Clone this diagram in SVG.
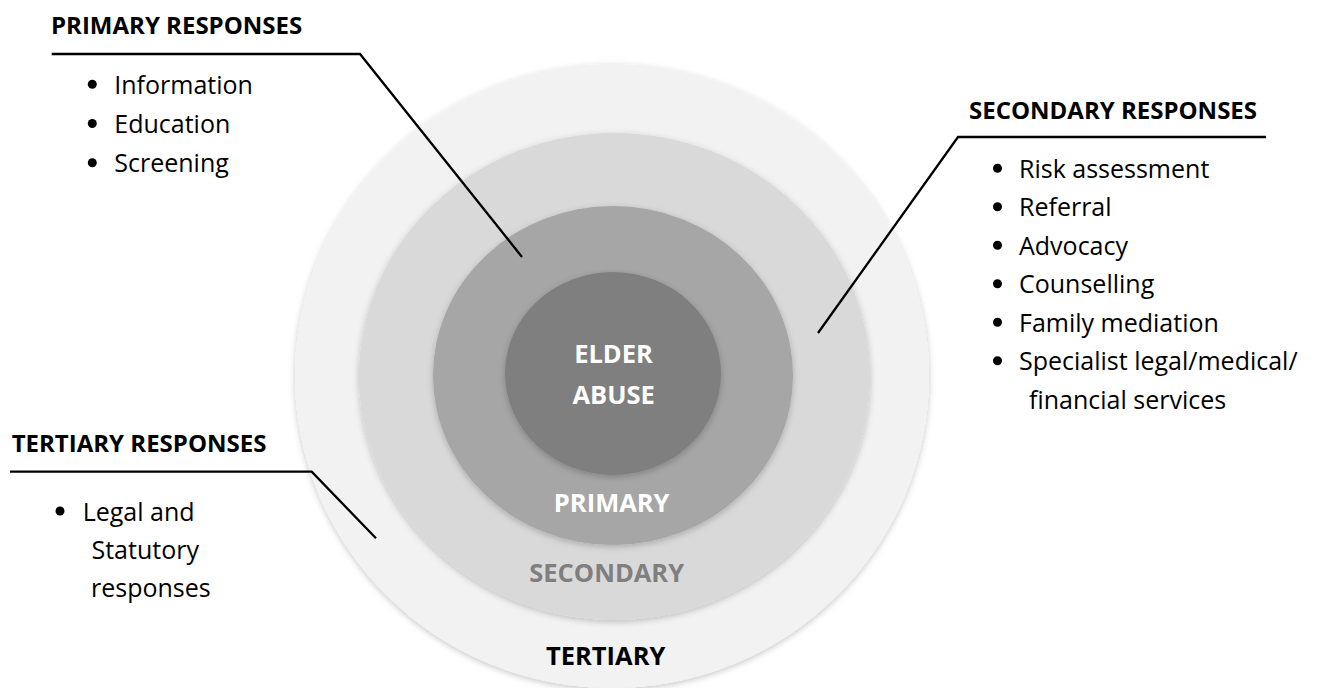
<svg xmlns="http://www.w3.org/2000/svg" width="1325" height="688" viewBox="0 0 1325 688">
  <defs>
    <filter id="sh" x="-10%" y="-10%" width="120%" height="120%">
      <feDropShadow dx="0" dy="2" stdDeviation="3" flood-color="#000" flood-opacity="0.22"/>
    </filter>
  </defs>
  <style>
    text { font-family: "Open Sans", "Liberation Sans", sans-serif; }
    .head { font-size: 24px; font-weight: bold; fill: #000; }
    .item { font-size: 25px; fill: #000; }
    .ring { font-size: 25.5px; font-weight: bold; text-anchor: middle; }
    .conn { fill: none; stroke: #000; stroke-width: 2.3; stroke-linejoin: miter; }
    .dot { fill: #000; }
  </style>
  <rect width="1325" height="688" fill="#ffffff"/>

  <g id="tertiary-ring">
    <ellipse cx="612" cy="376" rx="317" ry="312" fill="#f2f2f2" filter="url(#sh)"/>
  </g>
  <g id="secondary-ring">
    <ellipse cx="614.5" cy="376.5" rx="255.5" ry="243.5" fill="#d9d9d9" filter="url(#sh)"/>
  </g>
  <g id="primary-ring">
    <ellipse cx="613" cy="375.5" rx="180" ry="169.5" fill="#a6a6a6" filter="url(#sh)"/>
  </g>
  <g id="elder-abuse">
    <ellipse cx="613" cy="373.5" rx="108" ry="101.5" fill="#7f7f7f" filter="url(#sh)"/>
    <text class="ring" x="613.5" y="363.3" fill="#ffffff">ELDER</text>
    <text class="ring" x="613.7" y="404" fill="#ffffff">ABUSE</text>
  </g>
  <g id="ring-labels">
    <text class="ring" x="611.7" y="511.7" fill="#ffffff">PRIMARY</text>
    <text class="ring" x="606.7" y="581.7" fill="#7f7f7f">SECONDARY</text>
    <text class="ring" x="605.7" y="665" fill="#000000">TERTIARY</text>
  </g>

  <g id="connectors">
    <polyline class="conn" points="51.7,54 360,54 522,257"/>
    <polyline class="conn" points="1266,137 958,137 818,333"/>
    <polyline class="conn" points="10,471.7 311.7,471.7 376,538.3"/>
  </g>

  <g id="primary-responses">
    <text class="head" x="51" y="34.4">PRIMARY RESPONSES</text>
    <circle class="dot" cx="92.3" cy="84.2" r="4.5"/>
    <text class="item" x="114.3" y="93.7">Information</text>
    <circle class="dot" cx="92.3" cy="123.5" r="4.5"/>
    <text class="item" x="114.3" y="133">Education</text>
    <circle class="dot" cx="92.3" cy="162.8" r="4.5"/>
    <text class="item" x="114.3" y="172.3">Screening</text>
  </g>

  <g id="secondary-responses">
    <text class="head" x="969" y="118.6">SECONDARY RESPONSES</text>
    <circle class="dot" cx="997.5" cy="168.3" r="4.5"/>
    <text class="item" x="1019" y="177.8">Risk assessment</text>
    <circle class="dot" cx="997.5" cy="206.8" r="4.5"/>
    <text class="item" x="1019" y="216.3">Referral</text>
    <circle class="dot" cx="997.5" cy="245.3" r="4.5"/>
    <text class="item" x="1019" y="254.8">Advocacy</text>
    <circle class="dot" cx="997.5" cy="283.8" r="4.5"/>
    <text class="item" x="1019" y="293.3">Counselling</text>
    <circle class="dot" cx="997.5" cy="322.3" r="4.5"/>
    <text class="item" x="1019" y="331.8">Family mediation</text>
    <circle class="dot" cx="997.5" cy="360.8" r="4.5"/>
    <text class="item" x="1019" y="370.3">Specialist legal/medical/</text>
    <text class="item" x="1029" y="408.8">financial services</text>
  </g>

  <g id="tertiary-responses">
    <text class="head" x="11.7" y="451.7">TERTIARY RESPONSES</text>
    <circle class="dot" cx="60" cy="511" r="4.5"/>
    <text class="item" x="82.7" y="520.7">Legal and</text>
    <text class="item" x="91.5" y="559">Statutory</text>
    <text class="item" x="91" y="597">responses</text>
  </g>
</svg>
